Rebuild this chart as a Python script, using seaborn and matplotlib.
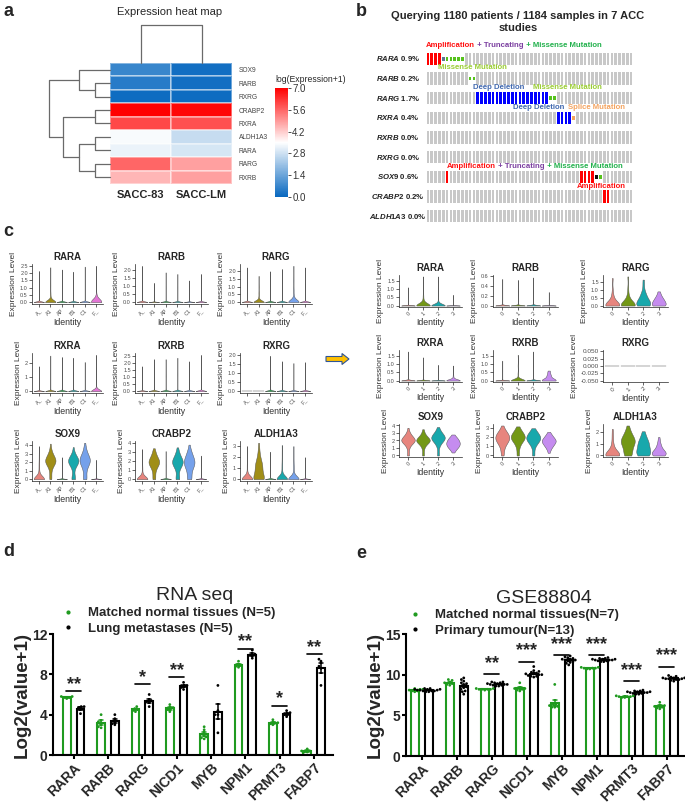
import numpy as np
import pandas as pd
import matplotlib
matplotlib.use("Agg")
import matplotlib.pyplot as plt
import seaborn as sns
from matplotlib.colors import LinearSegmentedColormap
from matplotlib.lines import Line2D
from matplotlib.patches import FancyArrow
from matplotlib.transforms import blended_transform_factory

# ---------------- panel a : heat map ----------------
heat_genes = ["SOX9", "RARB", "RXRG", "CRABP2", "RXRA", "ALDH1A3", "RARA", "RARG", "RXRB"]
heat_samples = ["SACC-83", "SACC-LM"]
heat_sacc83 = [0.7, 0.45, 0.1, 7.0, 6.0, 3.4, 3.2, 5.6, 4.5]
heat_sacclm = [0.15, 0.15, 0.1, 6.9, 5.9, 2.7, 2.9, 4.8, 4.8]
# (child, child, height); integers point at earlier merges
row_merges = [("RARB", "RXRG", 1.0), ("SOX9", 0, 2.05), ("CRABP2", "RXRA", 1.0),
              ("ALDH1A3", "RARA", 1.0), ("RARG", "RXRB", 1.0), (3, 4, 2.05),
              (2, 5, 3.1), (1, 6, 4.0)]
col_merges = [("SACC-83", "SACC-LM", 1.0)]
cbar_ticks = [0.0, 1.4, 2.8, 4.2, 5.6, 7.0]

# ---------------- panel b : oncoprint ----------------
onco_genes = ["RARA", "RARB", "RARG", "RXRA", "RXRB", "RXRG", "SOX9", "CRABP2", "ALDH1A3"]
onco_pct = ["0.9%", "0.2%", "1.7%", "0.4%", "0.0%", "0.0%", "0.6%", "0.2%", "0.0%"]
onco_n = 54
amp_cols = {"RARA": [0, 1, 2, 3], "SOX9": [5, 40, 41, 42, 43], "CRABP2": [46, 47]}
del_cols = {"RARG": [13, 14, 15, 16, 17, 18, 19, 20, 21, 22, 23, 24, 25, 26, 27, 28, 29, 30, 31],
            "RXRA": [34, 35, 36, 37]}
missense_cols = {"RARA": [5, 6, 7, 8, 9], "RARB": [11, 12], "RARG": [32, 33], "SOX9": [45]}
trunc_cols = {"RARA": [4], "SOX9": [44]}
trunc_colors = {"RARA": "#5F7392", "SOX9": "#111111"}
splice_cols = {"RXRA": [38]}

# ---------------- panel c : violin plots ----------------
left_ids = ["A_", "A1", "AP", "B1", "C1", "F_"]
right_ids = ["0", "1", "2", "3"]
left_pal = ["#F8766D", "#B79F00", "#00BA38", "#00BFC4", "#619CFF", "#F564E3"]
right_pal = ["#F8766D", "#7CAE00", "#00BFC4", "#C77CFF"]
# each violin: (expression value, number of cells)
left_RARA = [[(0, 300), (0.1, 4), (0.8, 1), (1.5, 1), (2.15, 1)],
             [(0, 60), (0.1, 6), (0.3, 3), (0.6, 2), (1.2, 1), (2.4, 1)],
             [(0, 300), (1.1, 1), (2.25, 1)],
             [(0, 300), (1.0, 1), (2.1, 1)],
             [(0, 300), (0.2, 2), (1.2, 1), (2.45, 1)],
             [(0, 30), (0.1, 10), (0.2, 4), (0.5, 2), (1.5, 1), (2.5, 1)]]
left_RARB = [[(0, 300), (1.1, 1), (2.25, 1)], [(0, 300), (0.6, 1), (1.2, 1)],
             [(0, 300), (0.9, 1), (1.85, 1)], [(0, 300), (0.9, 1), (1.75, 1)],
             [(0, 300), (0.7, 1), (1.35, 1)], [(0, 300), (0.9, 1), (1.75, 1)]]
left_RARG = [[(0, 300), (1.1, 1), (2.25, 1)],
             [(0, 60), (0.1, 6), (0.3, 3), (0.6, 2), (1.0, 1), (1.7, 1)],
             [(0, 300), (1.0, 1), (2.0, 1)], [(0, 300), (1.1, 1), (2.15, 1)],
             [(0, 50), (0.1, 6), (0.4, 3), (0.8, 2), (1.4, 1), (2.35, 1)],
             [(0, 300), (1.1, 1), (2.25, 1)]]
left_RXRA = [[(0, 300), (0.9, 1), (1.75, 1)], [(0, 300), (1.2, 1), (2.5, 1)],
             [(0, 300), (1.2, 1), (2.4, 1)], [(0, 300), (1.2, 1), (2.35, 1)],
             [(0, 300), (1.0, 1), (2.05, 1)],
             [(0, 80), (0.1, 4), (0.5, 1), (1.3, 1), (2.55, 1)]]
left_RXRB = [[(0, 300), (0.9, 1), (1.75, 1)], [(0, 300), (1.1, 1), (2.25, 1)],
             [(0, 300), (1.1, 1), (2.25, 1)], [(0, 300), (1.2, 1), (2.35, 1)],
             [(0, 300), (1.0, 1), (2.1, 1)], [(0, 300), (1.3, 1), (2.55, 1)]]
left_RXRG = [[(0, 300)], [(0, 300)], [(0, 300), (1.0, 1), (1.95, 1)],
             [(0, 300), (0.8, 1), (1.65, 1)], [(0, 300), (0.8, 1), (1.55, 1)],
             [(0, 300), (0.8, 1), (1.6, 1)]]
left_SOX9 = [[(0, 40), (0.2, 4), (0.6, 2), (1.2, 2), (1.8, 2), (2.4, 1), (3.0, 1), (3.9, 1)],
             [(0, 3), (0.3, 1), (0.8, 2), (1.4, 4), (1.9, 8), (2.2, 10), (2.6, 7), (3.0, 4), (3.5, 2), (4.2, 1)],
             [(0, 300), (1.3, 1), (2.6, 1)],
             [(0, 5), (0.2, 2), (0.8, 1), (1.4, 3), (1.9, 7), (2.2, 9), (2.5, 6), (3.0, 3), (3.8, 1)],
             [(0, 4), (0.2, 2), (0.8, 2), (1.4, 4), (1.9, 7), (2.3, 9), (2.7, 6), (3.2, 3), (3.7, 2), (4.3, 1)],
             [(0, 300), (1.2, 1), (2.3, 1)]]
left_CRABP2 = [[(0, 40), (0.2, 4), (0.6, 2), (1.2, 2), (1.8, 1), (2.5, 1), (3.3, 1)],
               [(0, 3), (0.2, 1), (0.7, 2), (1.3, 5), (1.8, 9), (2.1, 7), (2.6, 4), (3.0, 2), (3.4, 1)],
               [(0, 300), (1.5, 1), (3.1, 1)],
               [(0, 4), (0.2, 2), (0.7, 1), (1.3, 5), (1.8, 9), (2.1, 7), (2.6, 4), (3.0, 2), (3.5, 1)],
               [(0, 4), (0.2, 2), (0.7, 2), (1.2, 5), (1.7, 8), (2.1, 7), (2.6, 5), (3.1, 3), (3.8, 1)],
               [(0, 300), (1.3, 1), (2.6, 1)]]
left_ALDH1A3 = [[(0, 40), (0.2, 6), (0.6, 2), (1.2, 2), (1.8, 1), (2.4, 1), (3.0, 1)],
                [(0, 10), (0.2, 5), (0.6, 3), (1.0, 4), (1.3, 5), (1.7, 3), (2.2, 2), (2.7, 1), (3.3, 1)],
                [(0, 300), (1.2, 1), (2.5, 1)],
                [(0, 40), (0.2, 5), (0.8, 2), (1.3, 2), (1.8, 1), (2.4, 1), (3.1, 1)],
                [(0, 40), (0.2, 5), (0.7, 2), (1.2, 2), (1.7, 1), (2.3, 1), (3.0, 1)],
                [(0, 300), (1.0, 1), (2.0, 1)]]
right_RARA = [[(0, 300), (0.5, 1), (1.1, 1)],
              [(0, 40), (0.1, 6), (0.3, 3), (0.6, 2), (1.0, 1), (1.75, 1)],
              [(0, 60), (0.1, 5), (0.3, 2), (0.8, 1), (1.75, 1)],
              [(0, 300), (0.3, 1), (0.65, 1)]]
right_RARB = [[(0, 300), (0.3, 1), (0.55, 1)], [(0, 300), (0.3, 1), (0.53, 1)],
              [(0, 300), (0.3, 1), (0.58, 1)], [(0, 300), (0.15, 1), (0.28, 1)]]
right_RARG = [[(0, 12), (0.1, 5), (0.3, 3), (0.6, 2), (1.0, 1), (1.75, 1)],
              [(0, 12), (0.1, 5), (0.3, 3), (0.6, 2), (1.1, 1), (1.85, 1)],
              [(0, 8), (0.2, 5), (0.4, 4), (0.7, 3), (0.9, 1), (1.3, 1), (1.65, 1)],
              [(0, 8), (0.2, 7), (0.4, 5), (0.6, 3), (0.8, 1), (0.9, 1)]]
right_RXRA = [[(0, 300), (0.9, 1), (1.75, 1)], [(0, 300), (0.7, 1), (1.4, 1)],
              [(0, 300), (0.5, 1), (0.95, 1)],
              [(0, 40), (0.1, 5), (0.3, 2), (0.6, 1), (0.9, 1)]]
right_RXRB = [[(0, 300), (0.6, 1), (1.2, 1)],
              [(0, 60), (0.1, 4), (0.4, 2), (0.9, 1), (1.55, 1)],
              [(0, 300), (0.9, 1), (1.75, 1)],
              [(0, 12), (0.1, 5), (0.3, 4), (0.5, 2), (0.6, 1)]]
right_RXRG = [[(0, 60)], [(0, 60)], [(0, 60)], [(0, 60)]]
right_SOX9 = [[(0, 2), (0.5, 1), (1.2, 3), (1.8, 8), (2.1, 9), (2.5, 6), (3.0, 3), (3.7, 1)],
              [(0, 2), (0.5, 1), (1.2, 3), (1.8, 8), (2.1, 9), (2.5, 5), (3.0, 2), (3.5, 1)],
              [(0, 2), (0.6, 1), (1.4, 3), (2.0, 7), (2.4, 9), (2.8, 6), (3.3, 3), (3.8, 1)],
              [(0.4, 1), (0.8, 3), (1.2, 6), (1.6, 7), (2.0, 6), (2.4, 4), (2.8, 1)]]
right_CRABP2 = [[(0, 2), (0.5, 2), (1.1, 4), (1.6, 7), (2.0, 8), (2.4, 6), (2.8, 3), (3.3, 1)],
                [(0, 2), (0.5, 1), (1.1, 3), (1.7, 7), (2.1, 8), (2.5, 5), (2.9, 2), (3.2, 1)],
                [(0, 2), (0.5, 1), (1.1, 3), (1.6, 7), (2.0, 8), (2.4, 5), (2.7, 2), (3.0, 1)],
                [(0.3, 1), (0.7, 2), (1.1, 5), (1.5, 7), (1.8, 6), (2.2, 4), (2.6, 1)]]
right_ALDH1A3 = [[(0, 12), (0.2, 6), (0.5, 3), (0.9, 2), (1.4, 1), (1.8, 1), (2.3, 1)],
                 [(0, 4), (0.3, 3), (0.7, 4), (1.1, 6), (1.4, 6), (1.8, 4), (2.2, 2), (2.6, 1)],
                 [(0, 5), (0.3, 4), (0.6, 4), (1.0, 4), (1.3, 3), (1.7, 2), (2.1, 1)],
                 [(0, 6), (0.2, 6), (0.4, 5), (0.7, 3), (1.0, 2), (1.3, 1), (1.6, 1)]]
violin_genes = ["RARA", "RARB", "RARG", "RXRA", "RXRB", "RXRG", "SOX9", "CRABP2", "ALDH1A3"]
left_violins = [left_RARA, left_RARB, left_RARG, left_RXRA, left_RXRB, left_RXRG,
                left_SOX9, left_CRABP2, left_ALDH1A3]
right_violins = [right_RARA, right_RARB, right_RARG, right_RXRA, right_RXRB, right_RXRG,
                 right_SOX9, right_CRABP2, right_ALDH1A3]
left_yticks = [[0, 0.5, 1, 1.5, 2, 2.5], [0, 0.5, 1, 1.5, 2], [0, 0.5, 1, 1.5, 2],
               [0, 1, 2], [0, 0.5, 1, 1.5, 2, 2.5], [0, 0.5, 1, 1.5, 2],
               [0, 1, 2, 3, 4], [0, 1, 2, 3, 4], [0, 1, 2, 3]]
right_yticks = [[0, 0.5, 1, 1.5], [0, 0.2, 0.4, 0.6], [0, 0.5, 1, 1.5],
                [0, 0.5, 1, 1.5], [0, 0.5, 1, 1.5], [-0.05, -0.025, 0, 0.025, 0.05],
                [0, 1, 2, 3, 4], [0, 1, 2, 3], [0, 1, 2]]

# ---------------- panels d / e : bar charts ----------------
bar_genes = ["RARA", "RARB", "RARG", "NICD1", "MYB", "NPM1", "PRMT3", "FABP7"]
d_normal = [[5.7, 5.8, 5.6, 5.7, 5.8], [4.0, 3.3, 2.8, 2.7, 3.2], [4.8, 4.5, 4.3, 4.6, 4.4],
            [5.0, 4.5, 4.6, 4.3, 4.7], [2.8, 2.5, 1.6, 1.8, 1.7], [9.3, 9.0, 8.7, 8.8, 8.9],
            [3.5, 3.2, 3.1, 3.2, 3.0], [0.6, 0.4, 0.3, 0.3, 0.4]]
d_meta = [[4.8, 4.8, 4.5, 4.1, 4.7], [4.0, 3.6, 3.0, 3.3, 3.1], [6.0, 5.3, 4.8, 5.2, 5.4],
          [7.2, 6.8, 6.5, 6.9, 6.7], [6.9, 4.4, 4.0, 2.2, 4.0], [10.4, 10.0, 9.6, 9.9, 9.9],
          [4.4, 4.1, 3.8, 4.0, 4.2], [9.5, 9.3, 8.6, 8.8, 6.9]]
d_stars = ["**", "", "*", "**", "", "**", "*", "**"]
d_star_y = [6.3, 0, 7.0, 7.7, 0, 10.5, 4.9, 10.0]

e_normal = [[8.3, 8.0, 7.9, 8.2, 8.1, 8.0, 8.2], [9.4, 9.3, 8.8, 9.0, 8.7, 9.1, 8.9],
            [8.3, 8.2, 8.2, 8.1, 8.3, 8.2, 8.2], [9.0, 8.3, 8.2, 8.0, 8.4, 8.1, 8.3],
            [8.8, 6.3, 6.2, 6.0, 6.1, 6.4, 6.0], [10.9, 10.8, 10.7, 10.8, 10.9, 10.8, 10.7],
            [7.4, 7.3, 7.2, 7.3, 7.2, 7.3, 7.4], [6.6, 6.2, 5.9, 6.0, 6.1, 5.8, 6.2]]
e_tumour = [[8.3, 8.2, 8.1, 8.0, 8.2, 7.9, 8.1, 8.0, 8.2, 8.1, 8.0, 8.3, 7.9],
            [9.6, 9.4, 9.0, 8.8, 8.5, 8.2, 8.0, 7.6, 8.6, 8.4, 8.9, 7.9, 9.2],
            [9.0, 8.8, 8.7, 9.1, 8.9, 8.6, 8.8, 8.7, 9.0, 8.9, 8.8, 8.6, 9.1],
            [11.0, 10.5, 10.2, 9.8, 10.0, 10.1, 9.9, 10.3, 9.7, 10.0, 10.4, 9.8, 10.1],
            [12.3, 12.0, 11.8, 11.5, 11.2, 12.1, 11.9, 11.6, 11.8, 12.2, 11.4, 11.9, 11.7],
            [12.1, 11.9, 11.7, 11.8, 11.6, 12.0, 11.8, 11.9, 11.7, 11.8, 12.0, 11.6, 11.9],
            [8.1, 7.9, 7.7, 7.8, 7.6, 8.0, 7.8, 7.9, 7.7, 7.8, 8.0, 7.6, 7.9],
            [9.9, 9.6, 9.4, 9.5, 9.3, 9.7, 9.5, 9.6, 9.4, 9.5, 9.8, 9.2, 9.6]]
e_stars = ["", "", "**", "***", "***", "***", "***", "***"]
e_star_y = [0, 0, 10.1, 11.6, 12.4, 12.4, 9.2, 11.0]

GREEN = "#1F9A1F"
W, H = 685, 805

sns.set_theme(style="ticks")
plt.rcParams["font.family"] = ["Liberation Sans", "DejaVu Sans"]
plt.rcParams["mathtext.fontset"] = "custom"
plt.rcParams["mathtext.it"] = "Liberation Sans:italic:bold"
plt.rcParams["mathtext.rm"] = "Liberation Sans:bold"

fig = plt.figure(figsize=(W / 100, H / 100), dpi=100)


def px_axes(x0, y0, x1, y1):
    return fig.add_axes([x0 / W, 1 - y1 / H, (x1 - x0) / W, (y1 - y0) / H])


def draw_dendro(ax, leaves, merges, side):
    pos = {leaf: i + 0.5 for i, leaf in enumerate(leaves)}
    hgt = {leaf: 0.0 for leaf in leaves}
    for k, (a, b, h) in enumerate(merges):
        xs = [hgt[a], h, h, hgt[b]]
        ys = [pos[a], pos[a], pos[b], pos[b]]
        if side == "left":
            ax.plot(xs, ys, color="#6a6a6a", lw=0.9, clip_on=False)
        else:
            ax.plot(ys, xs, color="#6a6a6a", lw=0.9, clip_on=False)
        pos[k] = (pos[a] + pos[b]) / 2
        hgt[k] = h
    ax.axis("off")


# ---- a
cmap = LinearSegmentedColormap.from_list("exp", ["#0868C0", "#FFFFFF", "#FF0000"])
heat_df = pd.DataFrame({"SACC-83": heat_sacc83, "SACC-LM": heat_sacclm}, index=heat_genes)
ax_hm = px_axes(110, 63, 232, 184)
ax_cb = px_axes(275, 88, 288, 197)
sns.heatmap(heat_df, ax=ax_hm, cmap=cmap, vmin=0, vmax=7, cbar_ax=ax_cb,
            xticklabels=True, yticklabels=True,
            linewidths=0.3, linecolor=(1, 1, 1, 0.4))
ax_hm.yaxis.tick_right()
ax_hm.tick_params(axis="y", length=0, labelsize=4.8, labelcolor="#444444", pad=5, labelrotation=0)
ax_hm.tick_params(axis="x", length=0, labelsize=8, pad=4, labelrotation=0)
for t in ax_hm.get_xticklabels():
    t.set_fontweight("bold")
ax_hm.set_xlabel("")
ax_hm.set_ylabel("")
ax_cb.set_yticks(cbar_ticks)
ax_cb.set_yticklabels([f"{v:.1f}" for v in cbar_ticks])
ax_cb.tick_params(labelsize=7, length=2, width=0.6, color="#333333", labelcolor="#333333", pad=1)
ax_hm.collections[0].colorbar.outline.set_visible(False)
fig.text(275 / W, 1 - 79 / H, "log(Expression+1)", fontsize=6.2, ha="left", va="center")
fig.text(170 / W, 1 - 12 / H, "Expression heat map", fontsize=8, ha="center", va="center")

ax_rd = px_axes(47, 63, 110, 184)
draw_dendro(ax_rd, heat_genes, row_merges, "left")
ax_rd.set_xlim(4.13, 0)
ax_rd.set_ylim(9, 0)
ax_cd = px_axes(110, 25, 232, 63)
draw_dendro(ax_cd, heat_samples, col_merges, "top")
ax_cd.set_xlim(0, 2)
ax_cd.set_ylim(0, 1.0)

# ---- b
ax_on = px_axes(426, 49, 633, 226)
bw, bh, mh = 0.68, 0.64, 0.2
for r, g in enumerate(onco_genes):
    used = (amp_cols.get(g, []) + del_cols.get(g, []) + missense_cols.get(g, [])
            + trunc_cols.get(g, []) + splice_cols.get(g, []))
    gray = [c for c in range(onco_n) if c not in used]
    ax_on.bar(gray, bh, bottom=r - bh / 2, width=bw, color="#C8C8C8", linewidth=0)
    if g in amp_cols:
        ax_on.bar(amp_cols[g], bh, bottom=r - bh / 2, width=bw, color="#FF0000", linewidth=0)
    if g in del_cols:
        ax_on.bar(del_cols[g], bh, bottom=r - bh / 2, width=bw, color="#0000FF", linewidth=0)
    if g in missense_cols:
        ax_on.bar(missense_cols[g], mh, bottom=r - mh / 2, width=bw, color="#55C21B", linewidth=0)
    if g in trunc_cols:
        ax_on.bar(trunc_cols[g], mh, bottom=r - mh / 2, width=bw, color=trunc_colors[g], linewidth=0)
    if g in splice_cols:
        ax_on.bar(splice_cols[g], mh, bottom=r - mh / 2, width=bw, color="#F4A460", linewidth=0)
ax_on.set_xlim(-0.5, onco_n - 0.5)
ax_on.set_ylim(len(onco_genes) - 0.5, -0.5)
ax_on.axis("off")

lab_tr = blended_transform_factory(fig.transFigure, ax_on.transData)
for r, (g, p) in enumerate(zip(onco_genes, onco_pct)):
    ax_on.text(398 / W, r, f"$\\mathit{{{g}}}$ {p}", transform=lab_tr, ha="center", va="center",
               fontsize=5.6, fontweight="bold", color="#222222")


def multicolor(ax, x, y, pieces, size=5.6):
    t = ax.text(x, y, pieces[0][0], color=pieces[0][1], fontsize=size, fontweight="bold",
                ha="left", va="center")
    for s, c in pieces[1:]:
        t = ax.annotate(s, xy=(1, 0), xycoords=t, ha="left", va="bottom", color=c,
                        fontsize=size, fontweight="bold")


RED, PURPLE, MGREEN, LGREEN, DBLUE, ORANGE = "#FF1010", "#7B3FA0", "#22B14C", "#9ACD32", "#4169B0", "#F4A460"
multicolor(ax_on, -0.5, -0.66, [("Amplification", RED), (" + Truncating", PURPLE),
                                 (" + Missense Mutation", MGREEN)])
multicolor(ax_on, 2.6, 0.46, [("Missense Mutation", LGREEN)])
multicolor(ax_on, 11.8, 1.45, [("Deep Deletion", DBLUE)])
multicolor(ax_on, 27.4, 1.45, [("Missense Mutation", LGREEN)])
multicolor(ax_on, 22.2, 2.45, [("Deep Deletion", DBLUE)])
multicolor(ax_on, 36.5, 2.45, [("Splice Mutation", ORANGE)])
multicolor(ax_on, 5.0, 5.46, [("Amplification", RED), (" + Truncating", PURPLE),
                               (" + Missense Mutation", MGREEN)])
multicolor(ax_on, 38.9, 6.48, [("Amplification", RED)])
fig.text(518 / W, 1 - 22 / H, "Querying 1180 patients / 1184 samples in 7 ACC\nstudies",
         ha="center", va="center", fontsize=8, fontweight="bold", linespacing=1.25)

# ---- c


def long_form(groups, ids):
    labs, vals = [], []
    for gid, pairs in zip(ids, groups):
        for v, n in pairs:
            labs.extend([gid] * n)
            vals.extend([v] * n)
    return pd.DataFrame({"Identity": labs, "Expression Level": vals})


def violin_panel(rect, title, groups, ids, pal, ticks, tick_size=4.0):
    ax = px_axes(*rect)
    df = long_form(groups, ids)
    sns.violinplot(data=df, x="Identity", y="Expression Level", hue="Identity", order=ids,
                   hue_order=ids, palette=pal, density_norm="width", cut=0, inner=None,
                   linewidth=0.35, linecolor="#555555", width=0.9, legend=False, ax=ax)
    lo, hi = min(ticks[0], df["Expression Level"].min()), max(ticks[-1], df["Expression Level"].max())
    pad = 0.05 * (hi - lo)
    ax.set_ylim(lo - pad, hi + pad)
    ax.set_xlim(-0.6, len(ids) - 0.4)
    ax.set_yticks(ticks)
    if ticks[-1] == 0.05:
        ax.set_yticklabels([f"{t:.3f}" for t in ticks])
    elif all(float(t).is_integer() for t in ticks):
        ax.set_yticklabels([f"{t:d}" for t in ticks])
    else:
        ax.set_yticklabels([f"{t:.1f}" for t in ticks])
    ax.tick_params(labelsize=tick_size, length=2, width=0.5, pad=1, labelcolor="#4d4d4d")
    plt.setp(ax.get_xticklabels(), rotation=45, ha="right", rotation_mode="anchor")
    for s in ["top", "right"]:
        ax.spines[s].set_visible(False)
    for s in ["left", "bottom"]:
        ax.spines[s].set_linewidth(0.5)
        ax.spines[s].set_color("#222222")
    ax.set_title(title, fontsize=7, fontweight="bold", pad=3)
    ax.set_xlabel("Identity", fontsize=6.3, labelpad=1, color="#333333")
    ax.set_ylabel("Expression Level", fontsize=6, labelpad=2, color="#333333")
    return ax


left_cols = [(32, 103), (135, 208), (240, 312)]
left_rows = [(264, 304), (353, 393), (441, 481)]
right_cols = [(399, 462), (493, 558), (603, 668)]
right_rows = [(275, 307), (350, 382), (424, 457)]
for i, gene in enumerate(violin_genes):
    r, c = divmod(i, 3)
    violin_panel((left_cols[c][0], left_rows[r][0], left_cols[c][1], left_rows[r][1]),
                 gene, left_violins[i], left_ids, left_pal, left_yticks[i])
    violin_panel((right_cols[c][0], right_rows[r][0], right_cols[c][1], right_rows[r][1]),
                 gene, right_violins[i], right_ids, right_pal, right_yticks[i],
                 tick_size=4.6 if gene == "RXRG" else 4.0)

fig.patches.append(FancyArrow(326 / W, 1 - 359 / H, 16 / W, 0, width=5 / H, head_width=11 / H,
                              head_length=7 / W, length_includes_head=False,
                              transform=fig.transFigure, figure=fig,
                              facecolor="#FFC000", edgecolor="#2F5597", linewidth=0.8))

# ---- d / e


def bar_panel(rect, title, title_xy, normal, disease, labels, stars, star_y, ymax, yticks,
              xlim, star_off, legend_xy):
    ax = px_axes(*rect)
    genes_col, group_col, vals = [], [], []
    for g, a, b in zip(bar_genes, normal, disease):
        for v in a:
            genes_col.append(g); group_col.append(labels[0]); vals.append(v)
        for v in b:
            genes_col.append(g); group_col.append(labels[1]); vals.append(v)
    df = pd.DataFrame({"gene": genes_col, "group": group_col, "value": vals})
    pal = [GREEN, "black"]
    sns.barplot(data=df, x="gene", y="value", hue="group", hue_order=labels, palette=pal,
                fill=False, errorbar="se", capsize=0.25, linewidth=1.5, width=0.8, gap=0.45,
                err_kws={"linewidth": 1.1}, legend=False, ax=ax)
    sns.swarmplot(data=df, x="gene", y="value", hue="group", hue_order=labels, palette=pal,
                  dodge=True, size=2.0, legend=False, ax=ax)
    for i, (s, y) in enumerate(zip(stars, star_y)):
        if s:
            ax.plot([i - 0.22, i + 0.22], [y, y], color="black", lw=1.2)
            ax.text(i, y + star_off, s, ha="center", va="center", fontsize=13, fontweight="bold")
    ax.set_ylim(0, ymax)
    ax.set_xlim(*xlim)
    ax.set_yticks(yticks)
    ax.set_xlabel("")
    ax.set_ylabel("Log2(value+1)", fontsize=13.5, fontweight="bold", labelpad=1)
    ax.tick_params(axis="both", length=3, width=1.5, color="black")
    ax.tick_params(axis="y", labelsize=10, pad=1)
    ax.tick_params(axis="x", labelsize=10, pad=1)
    plt.setp(ax.get_yticklabels(), fontweight="bold")
    plt.setp(ax.get_xticklabels(), fontweight="bold", rotation=45, ha="right",
             rotation_mode="anchor")
    sns.despine(ax=ax)
    for s in ["left", "bottom"]:
        ax.spines[s].set_linewidth(1.5)
        ax.spines[s].set_color("black")
    fig.text(title_xy[0] / W, 1 - title_xy[1] / H, title, fontsize=14, ha="center", va="center")
    handles = [Line2D([], [], marker="o", ls="", color=GREEN, markersize=2),
               Line2D([], [], marker="o", ls="", color="black", markersize=2)]
    ax.legend(handles, labels, loc="upper left", bbox_to_anchor=(legend_xy[0] / W, 1 - legend_xy[1] / H),
              bbox_transform=fig.transFigure, frameon=False, handlelength=0.6,
              handletextpad=1.2, labelspacing=0.25, borderpad=0, borderaxespad=0,
              prop={"weight": "bold", "size": 9.5})
    return ax


bar_panel((53, 634, 333, 755), "RNA seq", (195, 596), d_normal, d_meta,
          ["Matched normal tissues (N=5)", "Lung metastases (N=5)"],
          d_stars, d_star_y, 12, [0, 4, 8, 12], (-0.6, 7.55), 0.7, (64, 607))
bar_panel((406, 634, 686, 756), "GSE88804", (544, 598), e_normal, e_tumour,
          ["Matched normal tissues(N=7)", "Primary tumour(N=13)"],
          e_stars, e_star_y, 15, [0, 5, 10, 15], (-0.45, 7.55), 1.3, (411, 609))

for lab, x, y in [("a", 3, 11), ("b", 356, 11), ("c", 3, 231), ("d", 3, 551), ("e", 356, 553)]:
    fig.text(x / W, 1 - y / H, lab, fontsize=13, fontweight="bold", ha="left", va="center")

fig.savefig("out.png", dpi=100)
